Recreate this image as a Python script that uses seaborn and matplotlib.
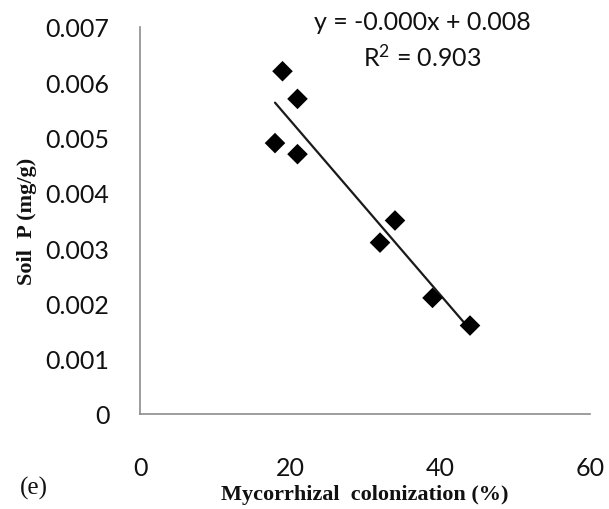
import matplotlib
matplotlib.use("Agg")
import matplotlib.pyplot as plt
import seaborn as sns
import pandas as pd

colonization = [19, 21, 18, 21, 34, 32, 39, 44]
soil_p = [0.0062, 0.0057, 0.0049, 0.0047, 0.0035, 0.0031, 0.0021, 0.0016]
x_ticks = [0, 20, 40, 60]
y_ticks = [0, 0.001, 0.002, 0.003, 0.004, 0.005, 0.006, 0.007]
y_tick_labels = ["0", "0.001", "0.002", "0.003", "0.004", "0.005", "0.006", "0.007"]
equation = "y = -0.000x + 0.008"
r2_text = "R$^2$ = 0.903"

df = pd.DataFrame({"x": colonization, "y": soil_p})

sns.set_theme(style="white")
plt.rcParams["font.family"] = ["Lato", "DejaVu Sans"]
plt.rcParams["mathtext.default"] = "regular"

fig = plt.figure(figsize=(6.09, 5.10), dpi=100)
ax = fig.add_axes([140 / 609, 1 - 415 / 510, 450 / 609, 387 / 510])

sns.regplot(data=df, x="x", y="y", ax=ax, ci=None, truncate=True, marker="D",
            scatter_kws={"s": 110, "color": "black", "alpha": 1, "edgecolors": "none", "zorder": 3},
            line_kws={"color": "#1a1a1a", "linewidth": 1.6})

ax.set_xlim(0, 60)
ax.set_ylim(0, 0.007)
ax.set_xticks(x_ticks)
ax.set_xticklabels([str(t) for t in x_ticks])
ax.set_yticks(y_ticks)
ax.set_yticklabels(y_tick_labels)
ax.tick_params(axis="both", length=0, labelsize=18, colors="#111111")
ax.tick_params(axis="y", pad=22)
ax.tick_params(axis="x", pad=30)

for s in ["top", "right"]:
    ax.spines[s].set_visible(False)
for s in ["left", "bottom"]:
    ax.spines[s].set_color("#8c8c8c")
    ax.spines[s].set_linewidth(1.2)

ax.set_xlabel("Mycorrhizal  colonization (%)", family="Liberation Serif",
              fontweight="bold", fontsize=16, color="#111111", labelpad=4)
ax.set_ylabel("Soil  P (mg/g)", family="Liberation Serif",
              fontweight="bold", fontsize=16, color="#111111", labelpad=6)

ax.text(0.627, 1.0155, equation, transform=ax.transAxes, ha="center", va="center",
        fontsize=18, color="#111111", clip_on=False)
ax.text(0.627, 0.925, r2_text, transform=ax.transAxes, ha="center", va="center",
        fontsize=18, color="#111111", clip_on=False)

fig.text(20 / 609, 1 - 488 / 510, "(e)", family="Liberation Serif", fontsize=18,
         ha="left", va="center", color="#111111")

fig.savefig("out.png", dpi=100)
